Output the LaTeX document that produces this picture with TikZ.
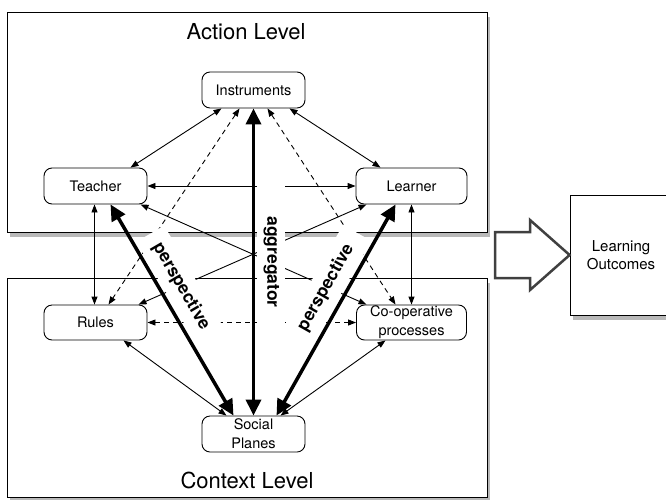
\documentclass[tikz,border=0pt]{standalone}
\usepackage{fontspec}
\setmainfont{TeX Gyre Heros}
\usetikzlibrary{arrows.meta,shadows}

\tikzset{
  levelbox/.style={draw, line width=0.8pt, fill=white,
    drop shadow={shadow xshift=2.5pt, shadow yshift=-4.5pt, fill=black!55}},
  entity/.style={draw, rounded corners=8pt, line width=0.9pt, fill=white,
    minimum width=103pt, minimum height=36pt, inner sep=1pt, align=center,
    font=\fontsize{14.5}{19}\selectfont},
  link/.style={line width=0.9pt, {Triangle[length=8pt,width=6pt]}-{Triangle[length=8pt,width=6pt]}},
  weaklink/.style={link, dash pattern=on 5pt off 4pt},
  mainlink/.style={line width=3.5pt, {Triangle[length=16pt,width=15pt]}-{Triangle[length=16pt,width=15pt]}},
  tag/.style={fill=white, inner sep=0pt, font=\fontsize{17.5}{20}\selectfont\bfseries, sloped, above=2pt}
}

\begin{document}
\begin{tikzpicture}[x=1pt, y=-1pt]
    \useasboundingbox (0,0) rectangle (666,499);

    % the two levels
    \node[levelbox, minimum width=480pt, minimum height=220pt] (action) at (247,122) {};
    \node[levelbox, minimum width=480pt, minimum height=219pt] (context) at (247,387.5) {};
    \node[font=\fontsize{22}{26}\selectfont] (actionlbl) at (246,32) {Action Level};
    \node[font=\fontsize{22}{26}\selectfont] (contextlbl) at (247,480) {Context Level};

    \node[levelbox, minimum width=102pt, minimum height=120pt, align=center,
          font=\fontsize{15}{18}\selectfont] (outcomes) at (621,255) {Learning\\Outcomes};
    \draw[line width=2.5pt, draw=black!75, fill=white, line join=miter]
        (495,232) -- (530,232) -- (530,220) -- (outcomes.west) -- (530,290) -- (530,278) -- (495,278) -- cycle;

    \node[entity] (instr) at (253.5,90) {Instruments};
    \node[entity] (teacher) at (95.5,186) {Teacher};
    \node[entity, minimum width=111pt] (learner) at (411.5,186) {Learner};
    \node[entity, minimum height=35pt] (rules) at (95.5,322.5) {Rules};
    \node[entity, minimum width=110pt, minimum height=35pt] (coop) at (411.5,322.5) {Co-operative\\processes};
    \node[entity] (social) at (253.5,434) {Social\\Planes};

    \draw[link] ([xshift=-32pt]instr.south) -- ([xshift=35pt]teacher.north);
    \draw[link] ([xshift=36pt]instr.south) -- ([xshift=-31pt]learner.north);
    \draw[weaklink] ([xshift=-14pt]instr.south) -- ([xshift=13pt]rules.north);
    \draw[weaklink] ([xshift=14pt]instr.south) -- ([xshift=-16pt]coop.north);
    \draw[link] (teacher.east) -- (learner.west);
    \draw[link] ([xshift=-1pt]teacher.south) -- ([xshift=-1pt]rules.north);
    \draw[link] (learner.south) -- (coop.north);
    \draw[link] ([xshift=45pt]teacher.south) -- ([xshift=-45pt]coop.north);
    \draw[link] ([xshift=-45pt]learner.south) -- ([xshift=43pt]rules.north);
    \draw[weaklink] (rules.east) -- (coop.west);
    \draw[link] ([xshift=28pt]rules.south) -- ([xshift=-27pt]social.north);
    \draw[link] ([xshift=-26pt]coop.south) -- ([xshift=27pt]social.north);

    % thick ones with their labels
    \draw[mainlink] (instr.south) -- node[tag, minimum width=162pt, minimum height=28pt] {aggregator} (social.north);
    \draw[mainlink] ([xshift=15pt]teacher.south) -- node[tag, pos=0.435, minimum width=122pt, minimum height=32pt] {perspective} ([xshift=-20pt]social.north);
    \draw[mainlink] ([xshift=-16pt]learner.south) -- node[tag, pos=0.44, minimum width=126pt, minimum height=32pt] {perspective} ([xshift=23pt]social.north);
\end{tikzpicture}
\end{document}
